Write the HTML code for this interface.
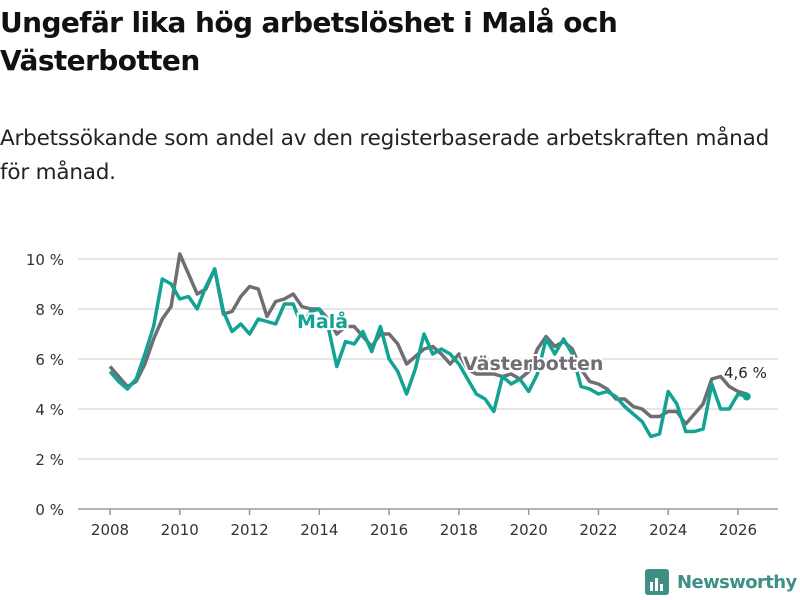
<!DOCTYPE html>
<html><head><meta charset="utf-8"><style>
body{margin:0;width:800px;height:600px;background:#fff;font-family:"Liberation Sans","DejaVu Sans",sans-serif;overflow:hidden;position:relative}
h1{position:absolute;left:0;top:4px;margin:0;font-size:28px;line-height:38px;font-weight:bold;color:#111;font-family:"DejaVu Sans",sans-serif;letter-spacing:-0.6px}
.sub{position:absolute;left:0;top:122px;font-size:21.5px;line-height:34px;color:#222;font-family:"DejaVu Sans",sans-serif;letter-spacing:-0.2px;white-space:nowrap}
svg{position:absolute;left:0;top:0}
</style></head><body>
<h1>Ungefär lika hög arbetslöshet i Malå och<br>Västerbotten</h1>
<div class="sub">Arbetssökande som andel av den registerbaserade arbetskraften månad<br>för månad.</div>
<svg id="chart" width="800" height="600"></svg>
<script>
const years=[2008,2010,2012,2014,2016,2018,2020,2022,2024,2026];
const yTicks=[0,2,4,6,8,10];
const vbValues=[5.7,5.3,4.9,5.1,5.8,6.8,7.6,8.1,10.2,9.4,8.6,8.8,9.6,7.8,7.9,8.5,8.9,8.8,7.7,8.3,8.4,8.6,8.1,8.0,8.0,7.6,7.0,7.3,7.3,6.9,6.5,7.0,7.0,6.6,5.8,6.1,6.4,6.5,6.2,5.8,6.2,5.6,5.4,5.4,5.4,5.3,5.4,5.2,5.5,6.4,6.9,6.5,6.7,6.4,5.6,5.1,5.0,4.8,4.4,4.4,4.1,4.0,3.7,3.7,3.9,3.9,3.4,3.8,4.2,5.2,5.3,4.9,4.7,4.6];
const malaValues=[5.5,5.1,4.8,5.2,6.2,7.3,9.2,9.0,8.4,8.5,8.0,8.9,9.6,7.9,7.1,7.4,7.0,7.6,7.5,7.4,8.2,8.2,7.3,7.9,8.0,7.3,5.7,6.7,6.6,7.1,6.3,7.3,6.0,5.5,4.6,5.6,7.0,6.2,6.4,6.2,5.8,5.2,4.6,4.4,3.9,5.3,5.0,5.2,4.7,5.4,6.8,6.2,6.8,6.2,4.9,4.8,4.6,4.7,4.5,4.1,3.8,3.5,2.9,3.0,4.7,4.2,3.1,3.1,3.2,5.0,4.0,4.0,4.6,4.5];
const startYear=2008, step=0.25;
const NS="http://www.w3.org/2000/svg";
const svg=document.getElementById('chart');
const xS=y=>110+(y-2008)*(738-110)/18;
const yS=v=>509-v*25;
function el(t,a){const e=document.createElementNS(NS,t);for(const k in a)e.setAttribute(k,a[k]);svg.appendChild(e);return e;}
yTicks.forEach(v=>{
 const g=el('line',{x1:78,x2:778,y1:yS(v),y2:yS(v),stroke:v===0?'#999':'#ddd','stroke-width':1.5});
 
 
 const t=el('text',{x:64,y:yS(v)+6,'text-anchor':'end','font-size':15,fill:'#333','font-family':'DejaVu Sans, sans-serif'});
 t.textContent=v+' %';
 
 
});
years.forEach(y=>{
 const tk=el('line',{x1:xS(y),x2:xS(y),y1:509,y2:515,stroke:'#999','stroke-width':1.5});
 
 
 const t=el('text',{x:xS(y),y:535,'text-anchor':'middle','font-size':15,fill:'#333','font-family':'DejaVu Sans, sans-serif'});
 t.textContent=y;
 
 
});
function line(vals,color,name){
 const d=vals.map((v,i)=>(i?'L':'M')+xS(startYear+i*step).toFixed(1)+','+yS(v).toFixed(1)).join('');
 const p=el('path',{d:d,fill:'none',stroke:color,'stroke-width':3.5,'stroke-linejoin':'round'});
 
 
}
line(vbValues,'#6e6e73','vasterbotten-line');
line(malaValues,'#13a394','mala-line');
const lastI=malaValues.length-1;
const dot=el('circle',{cx:xS(startYear+lastI*step),cy:yS(malaValues[lastI]),r:4,fill:'#13a394'});


function label(txt,x,y,color,name,size,bold){
 const t=el('text',{x:x,y:y,'font-size':size,'font-weight':bold?'bold':'normal',fill:color,stroke:'#fff','stroke-width':bold?4:3,'paint-order':'stroke','font-family':'DejaVu Sans, sans-serif'});
 t.textContent=txt;
 
 
}
label('Malå',297,328,'#13a394','mala-label',19,true);
label('Västerbotten',463,370,'#6e6e73','vasterbotten-label',19,true);
label('4,6 %',724,378,'#222','last-value-label',15,false);
</script>
<div style="position:absolute;left:645px;top:569px;display:flex;align-items:center">
 <svg width="24" height="26" style="position:static"><rect x="0" y="0" width="24" height="26" rx="3" fill="#3e8f86"/><rect x="5" y="13" width="3" height="9" fill="#fff"/><rect x="10" y="9" width="3" height="13" fill="#fff"/><rect x="15" y="15" width="3" height="7" fill="#fff"/></svg>
 <span style="margin-left:8px;font-size:18px;font-weight:bold;color:#3e8f86;font-family:'DejaVu Sans',sans-serif;letter-spacing:-0.6px">Newsworthy</span>
</div>
</body></html>
